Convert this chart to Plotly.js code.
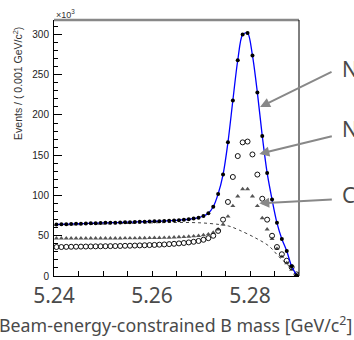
<!DOCTYPE html>
<html>
<head>
<meta charset="utf-8">
<script src="https://cdn.plot.ly/plotly-3.0.1.min.js"></script>
<style>html,body{margin:0;padding:0;background:#fff;overflow:hidden}#chart{width:354px;height:340px}</style>
</head>
<body>
<div id="chart"></div>
<script>
// Bin centres (GeV/c^2), bin width 0.001
const massBins = [5.2405,5.2415,5.2425,5.2435,5.2445,5.2455,5.2465,5.2475,5.2485,5.2495,
  5.2505,5.2515,5.2525,5.2535,5.2545,5.2555,5.2565,5.2575,5.2585,5.2595,
  5.2605,5.2615,5.2625,5.2635,5.2645,5.2655,5.2665,5.2675,5.2685,5.2695,
  5.2705,5.2715,5.2725,5.2735,5.2745,5.2755,5.2765,5.2775,5.2785,5.2795,
  5.2805,5.2815,5.2825,5.2835,5.2845,5.2855,5.2865,5.2875,5.2885,5.2895];
// Events per bin (x10^3)
const totalEvents = [64,64.2,64.4,64.6,64.8,65,65.2,65.4,65.6,65.8,
  66,66.2,66.3,66.5,66.7,66.9,67.1,67.3,67.5,67.7,
  67.9,68.1,68.4,68.7,69,69.4,69.9,70.5,71.3,72.5,
  74.5,78,86,102,126,166,218,268,300,302,
  274,228,174,128,95,66,46,31,12,1];
const openCircleEvents = [36,36,36.2,36.3,36.4,36.5,36.6,36.7,36.8,36.9,
  37,37.1,37.2,37.3,37.5,37.6,37.8,38,38.2,38.4,
  38.6,38.9,39.2,39.6,40,40.5,41,41.7,42.5,43.5,
  45,47,50,56,70,92,123,149,166,167,
  151,126,96,70,50,36,27,19,11,2];
const triangleEvents = [46.8,46.8,46.8,46.8,46.8,46.8,46.8,46.8,46.8,46.8,
  46.8,46.8,46.8,46.8,46.9,47,47,47.1,47.2,47.3,
  47.4,47.5,47.6,47.8,48,48.3,48.6,49,49.4,50,
  50.8,52,54,58,64,74,87,99,108,108,
  99,87,72,58,46,34,24,16,8,1];
const bkgMass = [5.24,5.25,5.26,5.265,5.27,5.2737,5.2757,5.2778,5.2812,5.2839,5.2859,5.288,5.29];
const bkgEvents = [63,64.5,66,66.5,66,64,62,57,47,37,24,12,0];

const xTickVals = [5.24,5.245,5.25,5.255,5.26,5.265,5.27,5.275,5.28,5.285,5.29];
const xTickText = ['5.24','','','','5.26','','','','5.28','',''];
const yTickVals = [0,50,100,150,200,250,300];
const yTickText = ['0','50','100','150','200','250','300'];
const sideLabels = ['N','N','C'];

const traces = [
  {x: bkgMass, y: bkgEvents, mode:'lines', line:{color:'#444', width:1, dash:'dot', shape:'spline'}, hoverinfo:'skip'},
  {x: massBins, y: triangleEvents, mode:'markers', marker:{symbol:'triangle-up', size:4.5, color:'#555'}},
  {x: massBins, y: openCircleEvents, mode:'markers', marker:{symbol:'circle-open', size:5, color:'#111', line:{width:1}}},
  {x: massBins, y: totalEvents, mode:'lines', line:{color:'#0000ff', width:1.3, shape:'spline', smoothing:0.8}},
  {x: massBins, y: totalEvents, mode:'markers', marker:{symbol:'circle', size:4, color:'#000'}}
];

const labelFont = {family:'Noto Sans, DejaVu Sans, sans-serif', size:21, color:'#4a4a4a'};
const layout = {
  width:354, height:340,
  margin:{l:54, r:55, t:20, b:64, pad:0},
  paper_bgcolor:'#fff', plot_bgcolor:'#fff',
  showlegend:false,
  xaxis:{range:[5.24,5.29], tickvals:xTickVals, ticktext:xTickText, ticks:'inside', ticklen:5,
    tickcolor:'#000', showline:true, linecolor:'#000', linewidth:1, showgrid:false, zeroline:false,
    tickfont:labelFont, ticklabelstandoff:1},
  yaxis:{range:[0,318], tickvals:yTickVals, ticktext:yTickText, ticks:'inside', ticklen:8, tickcolor:'#000',
    minor:{dtick:10, ticks:'inside', ticklen:4, tickcolor:'#000'},
    showline:true, linecolor:'#000', linewidth:1, showgrid:false, zeroline:false,
    tickfont:{family:'Liberation Sans, Arial, sans-serif', size:10, color:'#222'}, ticklabelstandoff:2},
  shapes:[
    {type:'line', xref:'paper', yref:'paper', x0:0, x1:1, y0:1, y1:1, line:{color:'#888', width:2.5}},
    {type:'line', xref:'paper', yref:'paper', x0:1, x1:1, y0:0, y1:1, line:{color:'#000', width:1}}
  ],
  annotations:[
    {xref:'paper', yref:'paper', x:-0.147, y:0.754, xanchor:'center', yanchor:'middle',
      text:'Events / ( 0.001 GeV/c<sup>2</sup>)', textangle:-90,
      showarrow:false, font:{family:'Liberation Sans, Arial, sans-serif', size:10.5, color:'#333'}},
    {xref:'paper', yref:'paper', x:0, y:1.023, xanchor:'left', yanchor:'middle', text:'×10<sup>3</sup>',
      showarrow:false, font:{family:'Liberation Sans, Arial, sans-serif', size:9, color:'#333'}},
    {xref:'paper', yref:'paper', x:0.494, y:-0.191, xanchor:'center', yanchor:'middle',
      text:'Beam-energy-constrained B mass [GeV/c<sup>2</sup>]',
      showarrow:false, font:{family:'Noto Sans, DejaVu Sans, sans-serif', size:17.8, color:'#4a4a4a'}},
    {xref:'paper', yref:'paper', x:1.167, y:0.809, xanchor:'left', yanchor:'middle', text:sideLabels[0], showarrow:false, font:labelFont},
    {xref:'paper', yref:'paper', x:1.167, y:0.574, xanchor:'left', yanchor:'middle', text:sideLabels[1], showarrow:false, font:labelFont},
    {xref:'paper', yref:'paper', x:1.167, y:0.316, xanchor:'left', yanchor:'middle', text:sideLabels[2], showarrow:false, font:labelFont},
    {xref:'paper', yref:'paper', x:0.841, y:0.660, text:'', showarrow:true, ax:73, ay:-36,
      arrowhead:2, arrowsize:1, arrowwidth:2, arrowcolor:'#888'},
    {xref:'paper', yref:'paper', x:0.838, y:0.477, text:'', showarrow:true, ax:74, ay:-18,
      arrowhead:2, arrowsize:1, arrowwidth:2, arrowcolor:'#888'},
    {xref:'paper', yref:'paper', x:0.838, y:0.284, text:'', showarrow:true, ax:74, ay:-4,
      arrowhead:2, arrowsize:1, arrowwidth:2, arrowcolor:'#888'}
  ]
};
Plotly.newPlot('chart', traces, layout, {staticPlot:true, displayModeBar:false});
</script>
</body>
</html>
